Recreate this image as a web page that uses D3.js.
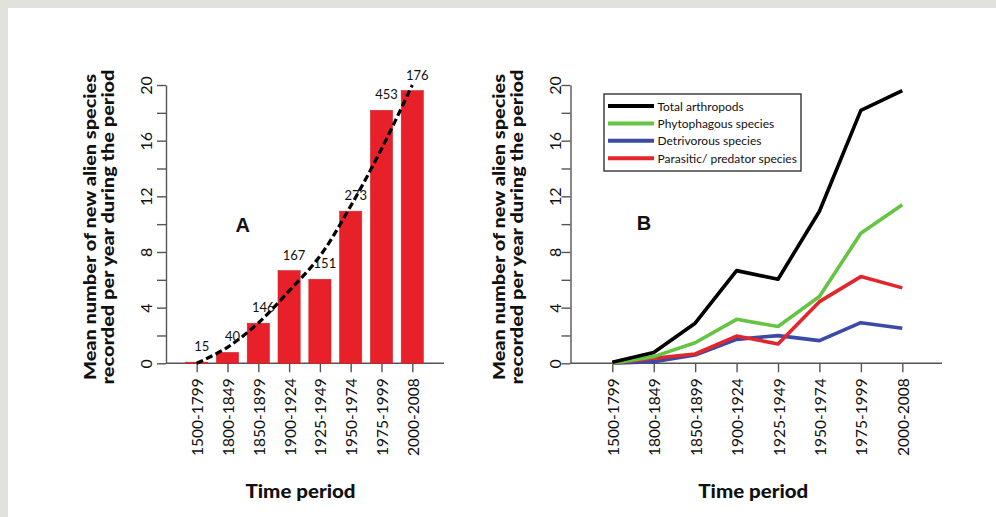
<!DOCTYPE html>
<html>
<head>
<meta charset="utf-8">
<script src="https://cdn.jsdelivr.net/npm/d3@7"></script>
<style>
  html, body { margin: 0; padding: 0; background: #e2e2dc; }
  svg { display: block; }
</style>
</head>
<body>
<svg id="chart" width="996" height="517"></svg>
<script>
// ---------- data ----------
const periods = ["1500-1799","1800-1849","1850-1899","1900-1924","1925-1949","1950-1974","1975-1999","2000-2008"];
const total = [0.08, 0.78, 2.88, 6.66, 6.04, 10.93, 18.18, 19.6];
const counts = [15, 40, 146, 167, 151, 273, 453, 176];
const trend = [0, 1.15, 2.9, 5.2, 7.7, 11.3, 15.4, 20];
const phytophagous = [0, 0.48, 1.48, 3.16, 2.64, 4.8, 9.35, 11.39];
const detrivorous = [0, 0.12, 0.6, 1.72, 1.99, 1.63, 2.92, 2.52];
const parasitic = [0, 0.36, 0.67, 1.96, 1.39, 4.43, 6.23, 5.42];
const yTicks = [0, 2, 4, 6, 8, 10, 12, 14, 16, 18, 20];
const yLabels = [0, 4, 8, 12, 16, 20];
const seriesNames = ["Total arthropods", "Phytophagous species", "Detrivorous species", "Parasitic/ predator species"];
const seriesColors = ["#000000", "#66c443", "#3a4aa6", "#e3262b"];

// ---------- setup ----------
const svg = d3.select("#chart");
svg.append("rect").attr("x", 8).attr("y", 8).attr("width", 988).attr("height", 509).attr("fill", "#ffffff");

const FONT = "Lato, 'Open Sans', sans-serif";
const AXIS_COLOR = "#555";

function drawPanel(opts) {
  const g = svg.append("g");
  const y = d3.scaleLinear().domain([0, 20]).range([363.3, 85]);
  const x = d3.scalePoint().domain(periods).range(opts.xRange);

  // y axis
  const ya = g.append("g").attr("transform", `translate(${opts.axisX},0)`)
    .call(d3.axisLeft(y).tickValues(yTicks).tickSize(9).tickSizeOuter(0)
      .tickFormat(d => yLabels.includes(d) ? d : ""));
  ya.select(".domain").attr("stroke", AXIS_COLOR).attr("stroke-width", 1.4);
  ya.selectAll(".tick line").attr("stroke", AXIS_COLOR).attr("stroke-width", 1.4);
  ya.selectAll(".tick text")
    .attr("x", null).attr("dy", null)
    .attr("transform", `translate(${-opts.yLabelOff},0) rotate(-90)`)
    .attr("text-anchor", "middle")
    .attr("dominant-baseline", "central")
    .attr("font-family", FONT).attr("font-size", 16).attr("fill", "#111");

  // x axis line
  g.append("line").attr("x1", opts.axisX).attr("x2", opts.xEnd)
    .attr("y1", y(0)).attr("y2", y(0))
    .attr("stroke", AXIS_COLOR).attr("stroke-width", 1.4);

  // y title
  g.append("text")
    .attr("transform", `translate(${opts.title1X},227) rotate(-90)`)
    .attr("text-anchor", "middle")
    .attr("font-family", FONT).attr("font-weight", 900).attr("font-size", 17).attr("fill", "#111")
    .attr("textLength", 306).attr("lengthAdjust", "spacingAndGlyphs")
    .text("Mean number of new alien species");
  g.append("text")
    .attr("transform", `translate(${opts.title2X},227) rotate(-90)`)
    .attr("text-anchor", "middle")
    .attr("font-family", FONT).attr("font-weight", 900).attr("font-size", 17).attr("fill", "#111")
    .attr("textLength", 315).attr("lengthAdjust", "spacingAndGlyphs")
    .text("recorded per year during the period");

  // x title
  g.append("text")
    .attr("x", (opts.xRange[0] + opts.xRange[1]) / 2 - 4).attr("y", 498)
    .attr("text-anchor", "middle")
    .attr("font-family", FONT).attr("font-weight", 900).attr("font-size", 18).attr("fill", "#111")
    .attr("textLength", 110).attr("lengthAdjust", "spacingAndGlyphs")
    .text("Time period");

  return { g, x, y };
}

function drawXAxis(p) {
  const xa = p.g.append("g").attr("transform", `translate(0,${p.y(0)})`)
    .call(d3.axisBottom(p.x).tickSize(9).tickSizeOuter(0));
  xa.select(".domain").remove();
  xa.selectAll(".tick line").attr("stroke", AXIS_COLOR).attr("stroke-width", 1.4);
  xa.selectAll(".tick text")
    .attr("y", null).attr("dy", null)
    .attr("transform", "translate(0,15) rotate(-90)")
    .attr("text-anchor", "end")
    .attr("dominant-baseline", "central")
    .attr("font-family", FONT).attr("font-size", 15.5).attr("fill", "#111");
}

// ---------- Panel A ----------
const A = drawPanel({ axisX: 166, xRange: [196.7, 412.3], xEnd: 444, yLabelOff: 21,
                      title1X: 95.5, title2X: 114 });
const bw = A.x.step() * 0.72;
A.g.selectAll("rect.bar").data(periods).join("rect")
  .attr("class", "bar")
  .attr("x", d => A.x(d) - bw / 2)
  .attr("width", bw)
  .attr("y", (d, i) => A.y(total[i]))
  .attr("height", (d, i) => A.y(0) - A.y(total[i]))
  .attr("fill", "#e8202a")
  .attr("stroke", "#c8282c").attr("stroke-width", 0.6);
drawXAxis(A);
// trend
const trendLine = d3.line().x((d, i) => A.x(periods[i])).y(d => A.y(d)).curve(d3.curveCatmullRom);
A.g.append("path").datum(trend).attr("d", trendLine)
  .attr("fill", "none").attr("stroke", "#000").attr("stroke-width", 3.2)
  .attr("stroke-dasharray", "7,3.5");
// count labels
A.g.selectAll("text.cnt").data(counts).join("text")
  .attr("class", "cnt")
  .attr("x", (d, i) => A.x(periods[i]) + 5)
  .attr("y", (d, i) => A.y(total[i]) - 16)
  .attr("text-anchor", "middle").attr("dominant-baseline", "central")
  .attr("font-family", FONT).attr("font-size", 13).attr("fill", "#111")
  .text(d => d);
A.g.append("text").attr("x", 242.7).attr("y", 225)
  .attr("text-anchor", "middle").attr("dominant-baseline", "central")
  .attr("font-family", "'Liberation Sans', Arial, sans-serif").attr("font-weight", 700)
  .attr("font-size", 20).attr("fill", "#111").text("A");

// ---------- Panel B ----------
const B = drawPanel({ axisX: 570.5, xRange: [612.3, 902.3], xEnd: 942, yLabelOff: 16,
                      title1X: 505, title2X: 523 });
drawXAxis(B);
const seriesData = [total, phytophagous, detrivorous, parasitic];
const lineGen = d3.line().x((d, i) => B.x(periods[i])).y(d => B.y(d));
// draw in order: detrivorous, parasitic, phytophagous, total (total on top)
[2, 3, 1, 0].forEach(k => {
  B.g.append("path").datum(seriesData[k]).attr("d", lineGen)
    .attr("fill", "none").attr("stroke", seriesColors[k]).attr("stroke-width", 3.6)
    .attr("stroke-linejoin", "round");
});
B.g.append("text").attr("x", 644).attr("y", 223)
  .attr("text-anchor", "middle").attr("dominant-baseline", "central")
  .attr("font-family", "'Liberation Sans', Arial, sans-serif").attr("font-weight", 700)
  .attr("font-size", 20).attr("fill", "#111").text("B");

// legend
const lg = B.g.append("g");
lg.append("rect").attr("x", 604).attr("y", 94).attr("width", 197).attr("height", 77)
  .attr("fill", "#fff").attr("stroke", "#333").attr("stroke-width", 1.4);
seriesNames.forEach((name, i) => {
  const yy = 106 + i * 17.4;
  lg.append("line").attr("x1", 608).attr("x2", 654).attr("y1", yy).attr("y2", yy)
    .attr("stroke", seriesColors[i]).attr("stroke-width", 4);
  lg.append("text").attr("x", 657.5).attr("y", yy)
    .attr("dominant-baseline", "central")
    .attr("font-family", FONT).attr("font-size", 12).attr("fill", "#111")
    .text(name);
});
</script>
</body>
</html>
